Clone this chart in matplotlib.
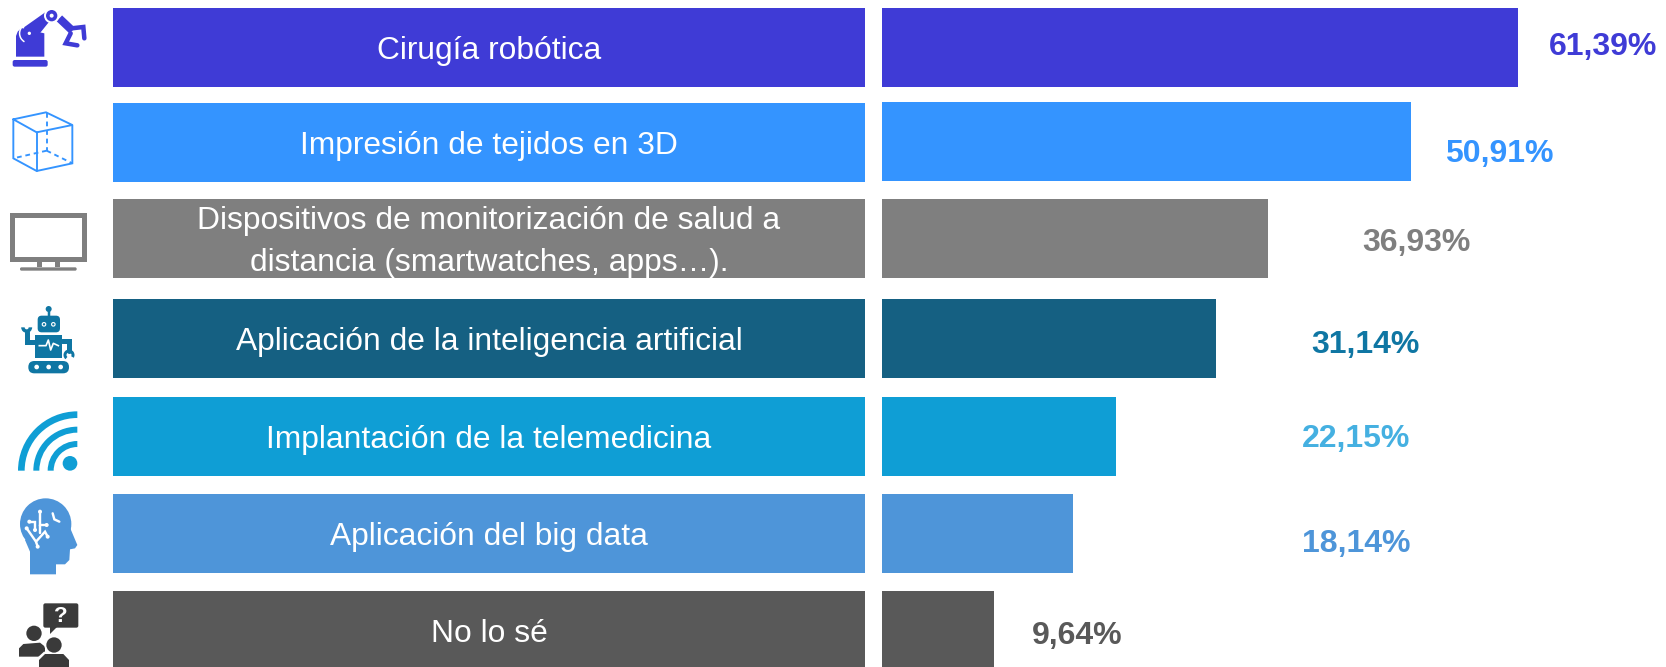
import matplotlib
matplotlib.use("Agg")
import matplotlib.pyplot as plt
from matplotlib.patches import Circle, FancyBboxPatch, Polygon, Rectangle, Wedge

plt.rcParams['font.family'] = ['Liberation Sans', 'DejaVu Sans']

categories = [
    "Cirugía robótica",
    "Impresión de tejidos en 3D",
    "Dispositivos de monitorización de salud a\ndistancia (smartwatches, apps…).",
    "Aplicación de la inteligencia artificial",
    "Implantación de la telemedicina",
    "Aplicación del big data",
    "No lo sé",
]
value_labels = ["61,39%", "50,91%", "36,93%", "31,14%", "22,15%", "18,14%", "9,64%"]
# bar lengths as drawn in the picture, they are not quite proportional to the printed numbers
bar_lengths = [61.39, 51.06, 37.26, 32.24, 22.59, 18.44, 10.81]

bar_colors = ["#3f3bd6", "#3494ff", "#7f7f7f", "#156082", "#0f9ed5", "#4e95d9", "#595959"]
label_colors = ["#3f3bd6", "#3494ff", "#7f7f7f", "#0f76a3", "#45b0e1", "#4e95d9", "#595959"]

W, H = 1666, 667
bar_tops = [8, 102, 199, 299, 397, 494, 591]
label_tops = [8, 103, 199, 299, 397, 494, 591]
bar_h = 79
label_x = [1603, 1499, 1416, 1365, 1356, 1356, 1077]
label_y = [47, 154, 243, 345, 439, 544, 636]
px_per_unit = 10.36

fig = plt.figure(figsize=(W / 100, H / 100), dpi=100, facecolor="white")

# full figure axes in pixels, for the label bars and the icons
ax = fig.add_axes([0, 0, 1, 1])
ax.set_xlim(0, W)
ax.set_ylim(H, 0)
ax.axis("off")

# value bars
ax2 = fig.add_axes([882 / W, 0, (W - 882) / W, 1])
ax2.set_xlim(0, (W - 882) / px_per_unit)
ax2.set_ylim(H, 0)
ax2.axis("off")

for i in range(len(categories)):
    ax.barh(label_tops[i] + bar_h / 2, 752, left=113, height=bar_h, color=bar_colors[i])
    ax2.barh(bar_tops[i] + bar_h / 2, bar_lengths[i], height=bar_h, color=bar_colors[i])
    ax.text(489, label_tops[i] + bar_h / 2 + 3.5, categories[i], color="white", fontsize=22.85,
            ha="center", va="center", linespacing=1.52)
    ax.text(label_x[i], label_y[i], value_labels[i], color=label_colors[i], fontsize=23,
            fontweight="bold", ha="center", va="center")


def line(pts, color, lw, ls="-", cap="round", y0=0):
    xs = [p[0] / 3 for p in pts]
    ys = [p[1] / 3 + y0 for p in pts]
    ax.plot(xs, ys, color=color, lw=lw * 0.72, ls=ls, solid_capstyle=cap,
            solid_joinstyle="miter", dash_capstyle="butt")


def poly(pts, color, y0=0, z=1):
    ax.add_patch(Polygon([(p[0] / 3, p[1] / 3 + y0) for p in pts], closed=True, color=color, lw=0, zorder=z))


def circ(x, y, r, color, y0=0, z=3):
    ax.add_patch(Circle((x / 3, y / 3 + y0), r / 3, color=color, lw=0, zorder=z))


def rbox(x0, y0, x1, y1, r, color, off=0, z=2):
    ax.add_patch(FancyBboxPatch((x0 / 3 + r, y0 / 3 + off + r), (x1 - x0) / 3 - 2 * r, (y1 - y0) / 3 - 2 * r,
                                boxstyle="round,pad=%f" % r, color=color, lw=0, zorder=z))


# robot arm
c = bar_colors[0]
rbox(38, 180, 143, 200, 2, c)
poly([(48, 170), (48, 108), (53, 95), (64, 84), (133, 100), (133, 170)], c)
ax.add_patch(Wedge((88 / 3, 100 / 3), 10.5, 120, 235, width=1.5, color="white", lw=0, zorder=2))
poly([(72, 82), (137, 36), (150, 62), (105, 118)], c, z=3)
circ(88, 100, 22, c)
circ(88, 100, 5, "white", z=4)
circ(155, 47, 23, "white")
circ(155, 47, 17, c)
circ(155, 47, 6, "white")
line([(178, 55), (217, 92)], c, 8, cap="butt")
line([(212, 100), (197, 130), (232, 136)], c, 4.5)
line([(215, 85), (250, 81), (253, 115)], c, 4.5)

# cube
c = bar_colors[1]
for seg in ([(40, 358), (138, 337), (217, 375), (110, 397), (40, 358)],
            [(40, 358), (40, 475), (110, 513), (217, 490), (217, 375)],
            [(110, 397), (110, 513)]):
    line(seg, c, 1.9)
for seg in ([(140, 340), (140, 452)], [(140, 452), (40, 475)], [(140, 452), (217, 490)]):
    line(seg, c, 1.9, ls=(0, (2.5, 2)))

# monitor
c = bar_colors[2]
ax.add_patch(Rectangle((30 / 3, 640 / 3), 230 / 3, 145 / 3, color=c, lw=0))
ax.add_patch(Rectangle((45 / 3, 655 / 3), 201 / 3, 116 / 3, color="white", lw=0))
ax.add_patch(Rectangle((110 / 3, 785 / 3), 15 / 3, 17 / 3, color=c, lw=0))
ax.add_patch(Rectangle((165 / 3, 785 / 3), 15 / 3, 17 / 3, color=c, lw=0))
rbox(60, 802, 230, 812, 1.5, c)

# robot with tracks
c = label_colors[3]
off = 280
circ(146, 87, 9, c, off)
line([(146, 87), (146, 110)], c, 2.5, y0=off)
rbox(113, 107, 180, 157, 4, c, off)
for x in (132, 160):
    circ(x, 133, 7, "white", off)
    circ(x, 133, 3.5, c, off)
ax.add_patch(Rectangle((105 / 3, 165 / 3 + off), 82 / 3, 70 / 3, color=c, lw=0, zorder=2))
ax.plot([p / 3 for p in (118, 138, 145, 152, 160, 175)],
        [p / 3 + off for p in (197, 197, 180, 210, 190, 197)], color="white", lw=1.2, zorder=4)
line([(105, 185), (80, 185), (80, 155)], c, 5, y0=off)
ax.add_patch(Wedge((80 / 3, 142 / 3 + off), 5.5, 0, 180, width=3.5, color=c, lw=0))
line([(187, 182), (207, 182), (207, 212)], c, 5, y0=off)
ax.add_patch(Wedge((207 / 3, 225 / 3 + off), 5.5, 130, 390, width=3, color=c, lw=0))
rbox(85, 243, 207, 280, 6, c, off)
for x in (110, 146, 182):
    circ(x, 261, 7, "white", off)

# wifi
c = bar_colors[4]
cx, cy = 232 / 3, 572 / 3 + off
for r, t in ((178, 20), (132, 18), (89, 18)):
    ax.add_patch(Wedge((cx, cy), r / 3, 180, 270, width=t / 3, color=c, lw=0))
circ(210, 550, 22, c, off)

# head with circuit
c = bar_colors[5]
circ(137, 732, 77, c, off, z=1)
poly([(90, 883), (90, 815), (75, 780), (200, 700), (213, 750), (232, 795), (225, 805), (210, 808), (208, 840),
      (195, 853), (168, 853), (168, 883)], c, off)
for seg in ([(120, 695), (120, 735), (140, 735)],
            [(120, 735), (120, 760)],
            [(88, 725), (105, 725), (105, 750)],
            [(80, 745), (108, 785), (135, 755), (143, 770)],
            [(108, 785), (113, 800)],
            [(158, 700), (163, 718), (178, 725)]):
    line(seg, "white", 2.4, y0=off)
for x, y in ((120, 695), (140, 735), (88, 725), (80, 745), (143, 770), (113, 800), (105, 750)):
    circ(x, y, 6, "white", off)

# people with question
c = "#3a3a3a"
rbox(130, 970, 235, 1043, 2, c, off)
poly([(150, 1040), (150, 1062), (172, 1040)], c, off)
ax.text(182 / 3, 1008 / 3 + off, "?", color="white", fontsize=16, fontweight="bold",
        ha="center", va="center", zorder=5)
circ(102, 1060, 23, c, off)
poly([(57, 1130), (57, 1105), (70, 1092), (120, 1088), (135, 1100), (135, 1130)], c, off)
circ(162, 1095, 29, "white", off, z=3)
circ(162, 1095, 23, c, off, z=4)
poly([(110, 1161), (110, 1135), (132, 1115), (192, 1115), (214, 1135), (214, 1161)], "white", off, z=3)
poly([(117, 1161), (117, 1140), (135, 1122), (190, 1122), (207, 1140), (207, 1161)], c, off, z=4)

fig.savefig("out.png", dpi=100)
